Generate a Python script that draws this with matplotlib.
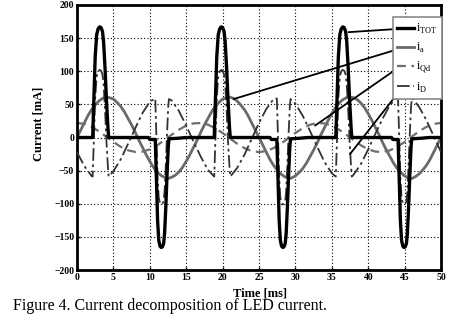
import matplotlib
matplotlib.use("Agg")
import matplotlib.pyplot as plt

plt.rcParams["font.family"] = ["Liberation Serif", "DejaVu Serif"]
plt.rcParams["mathtext.fontset"] = "custom"
plt.rcParams["mathtext.rm"] = "Liberation Serif"

# --- data ---------------------------------------------------------------
# i_a : gray solid sinusoid, sampled every 0.5 ms
t_a = [k / 2 for k in range(101)]
i_a = [0, 11, 22, 33, 42, 49, 55, 59, 61, 60, 58, 53, 47, 39, 29, 19, 8, -4, -15, -26,
       -36, -45, -52, -57, -60, -62, -60, -57, -52, -45, -36, -26, -15, -4, 8, 19, 29, 39,
       47, 53, 58, 60, 61, 59, 55, 49, 42, 33, 22, 11, 0, -11, -22, -33, -42, -49, -55, -59,
       -62, -61, -58, -53, -47, -39, -29, -19, -8, 4, 15, 26, 36, 45, 52, 57, 60, 61, 60, 57,
       52, 45, 36, 26, 15, 4, -8, -19, -29, -39, -47, -53, -58, -61, -62, -59, -55, -49, -42,
       -33, -22, -11, 0]

# i_Qd : gray dashed, every 1 ms
t_qd = list(range(51))
i_qd = [22, 20.5, 16, 9.4, 1.4, -6.8, -14, -19.3, -21.8, -21.3, -17.8, -11.8, -4.1, 4.1,
        11.8, 17.8, 21.3, 21.8, 19.3, 14, 6.8, -1.4, -9.4, -16, -20.5, -22, -20.5, -16, -9.4,
        -1.4, 6.8, 14, 19.3, 21.8, 21.3, 17.8, 11.8, 4.1, -4.1, -11.8, -17.8, -21.3, -21.8,
        -19.3, -14, -6.8, 1.4, 9.4, 16, 20.5, 22]

# i_TOT : black pulses
t_tot = [0, 2.15, 2.35, 2.5, 2.7, 2.9, 3.1, 3.3, 3.5, 3.65, 3.85, 4.05, 4.25, 4.35,
         9.8, 10.0, 10.75, 10.93, 11.07, 11.23, 11.4, 11.57, 11.73, 11.9, 12.03, 12.2, 12.37, 12.53, 12.63, 14, 15,
         18.85, 19.05, 19.2, 19.4, 19.6, 19.8, 20.0, 20.2, 20.35, 20.55, 20.75, 20.95, 21.05,
         26.5, 26.7, 27.45, 27.63, 27.77, 27.93, 28.1, 28.27, 28.43, 28.6, 28.73, 28.9, 29.07, 29.23, 29.33, 30.7, 31.7,
         35.55, 35.75, 35.9, 36.1, 36.3, 36.5, 36.7, 36.9, 37.05, 37.25, 37.45, 37.65, 37.75,
         43.2, 43.4, 44.1, 44.28, 44.42, 44.58, 44.75, 44.92, 45.08, 45.25, 45.38, 45.55, 45.72, 45.88, 45.98, 47.4, 48.4, 50]
i_tot = [0, 0, 70, 122, 155, 164, 167, 166, 160, 145, 105, 55, 15, 0,
         0, -3, -3, -70, -125, -155, -164, -166, -165, -160, -145, -105, -55, -15, -2, -1, 0,
         0, 70, 122, 155, 164, 167, 166, 160, 145, 105, 55, 15, 0,
         0, -3, -3, -70, -125, -155, -164, -166, -165, -160, -145, -105, -55, -15, -2, -1, 0,
         0, 70, 122, 155, 164, 167, 166, 160, 145, 105, 55, 15, 0,
         0, -3, -3, -70, -125, -155, -164, -166, -165, -160, -145, -105, -55, -15, -2, -1, 0, 0]

# i_D : dash-dot, triangular with spikes at the pulses
t_d = [0, 1, 2,
       2.15, 2.35, 2.5, 2.7, 2.9, 3.1, 3.3, 3.5, 3.65, 3.85, 4.05, 4.25, 4.35,
       5, 6, 7, 8, 9, 10,
       10.75, 10.93, 11.07, 11.23, 11.4, 11.57, 11.73, 11.9, 12.03, 12.2, 12.37, 12.53, 12.63,
       13, 14, 15, 16, 17, 18,
       18.85, 19.05, 19.2, 19.4, 19.6, 19.8, 20.0, 20.2, 20.35, 20.55, 20.75, 20.95, 21.05,
       22, 23, 24, 25, 26, 27,
       27.45, 27.63, 27.77, 27.93, 28.1, 28.27, 28.43, 28.6, 28.73, 28.9, 29.07, 29.23, 29.33,
       30, 31, 32, 33, 34, 35,
       35.55, 35.75, 35.9, 36.1, 36.3, 36.5, 36.7, 36.9, 37.05, 37.25, 37.45, 37.65, 37.75,
       38, 39, 40, 41, 42, 43, 44,
       44.1, 44.28, 44.42, 44.58, 44.75, 44.92, 45.08, 45.25, 45.38, 45.55, 45.72, 45.88, 45.98,
       46, 47, 48, 49, 50]
i_d = [-22, -43, -58,
       -59, 9, 60, 92, 100, 102, 101, 95, 81, 42, -7, -45, -59,
       -51, -33, -10, 14, 37, 54,
       59, -7, -61, -91, -99, -101, -100, -96, -81, -42, 7, 46, 58,
       56, 40, 18, -6, -29, -49,
       -59, 9, 60, 92, 100, 102, 101, 95, 81, 42, -7, -45, -59,
       -46, -26, -2, 22, 43, 58,
       59, -7, -61, -91, -99, -101, -100, -96, -81, -42, 7, 46, 58,
       51, 33, 10, -14, -37, -54,
       -59, 9, 60, 92, 100, 102, 101, 95, 81, 42, -7, -45, -59,
       -56, -40, -18, 6, 29, 49, 61,
       59, -7, -61, -91, -99, -101, -100, -96, -81, -42, 7, 46, 58,
       60, 46, 26, 2, -22]

labels = [r"i$_{\rm TOT}$", r"i$_{\rm a}$", r"i$_{\rm Qd}$", r"i$_{\rm D}$"]
# annotation targets (data) and starting points on the legend (axes fraction)
ann_xy = [(37.3, 159), (21.5, 58), (32.7, 18), (37.5, -25)]
ann_from = [(0.874, 0.909), (0.874, 0.830), (0.874, 0.755), (0.871, 0.649)]

xticks = list(range(0, 51, 5))
yticks = list(range(-200, 201, 50))

# --- figure ---------------------------------------------------------------
fig = plt.figure(figsize=(4.56, 3.2), dpi=100)
ax = fig.add_axes([77 / 456, 50 / 320, 364 / 456, 265 / 320])

l_a, = ax.plot(t_a, i_a, color="#6a6a6a", lw=2.0, zorder=2)
l_qd, = ax.plot(t_qd, i_qd, color="#6e6e6e", lw=1.6, ls=(0, (4, 2.5)), zorder=2)
l_d, = ax.plot(t_d, i_d, color="#333333", lw=1.3, ls=(0, (7, 2, 1.5, 2)), zorder=3)
l_tot, = ax.plot(t_tot, i_tot, color="black", lw=2.4, zorder=4)

for xy, src in zip(ann_xy, ann_from):
    ax.annotate("", xy=xy, xycoords="data", xytext=src, textcoords="axes fraction",
                arrowprops=dict(arrowstyle="-", color="black", lw=1.3,
                                shrinkA=0, shrinkB=0), zorder=5)

leg = ax.legend([l_tot, l_a, l_qd, l_d], labels, loc="upper right",
                bbox_to_anchor=(1.003, 0.955), borderaxespad=0, fontsize=8.5,
                handlelength=1.4, handletextpad=0.2, labelspacing=0.42,
                borderpad=0.4, fancybox=False, framealpha=1, edgecolor="#8a8a8a")
leg.get_frame().set_linewidth(1.2)
leg.set_zorder(6)

ax.set_xlim(0, 50)
ax.set_ylim(-200, 200)
ax.set_xticks(xticks)
ax.set_yticks(yticks)
ax.tick_params(direction="in", length=2, width=1, pad=2, labelsize=7)
for lab in ax.get_xticklabels() + ax.get_yticklabels():
    lab.set_fontweight("bold")
ax.grid(True, color="black", lw=0.8, ls=(0, (1, 2)))
for sp in ax.spines.values():
    sp.set_linewidth(2)

ax.set_xlabel("Time [ms]", fontsize=9, fontweight="bold")
ax.set_ylabel("Current [mA]", fontsize=9, fontweight="bold")
ax.xaxis.set_label_coords(0.503, -0.066)
ax.yaxis.set_label_coords(-0.088, 0.551)

fig.text(13 / 456, 1 - 306 / 320, "Figure 4. Current decomposition of LED current.",
         fontsize=11.5, va="center", ha="left")

fig.savefig("out.png", dpi=100)
